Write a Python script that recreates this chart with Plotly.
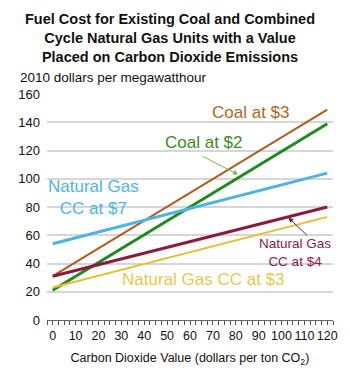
import plotly.graph_objects as go

co2_value = [0, 120]
coal_3 = [31, 149]
coal_2 = [21, 139]
ng_7 = [54, 104]
ng_4 = [31, 80]
ng_3 = [23, 73]
x_ticks = list(range(0, 121, 10))

series = [
    ("Coal at $3", coal_3, "#b35a1e", 2),
    ("Coal at $2", coal_2, "#1f8a1f", 3),
    ("Natural Gas CC at $7", ng_7, "#4cb3e3", 3),
    ("Natural Gas CC at $4", ng_4, "#8a1a3e", 3),
    ("Natural Gas CC at $3", ng_3, "#e3c12e", 2),
]

fig = go.Figure()
for name, ys, col, w in series:
    fig.add_trace(go.Scatter(x=co2_value, y=ys, mode="lines", name=name,
                             line=dict(color=col, width=w), showlegend=False))

F = "Liberation Sans, Arial, sans-serif"
ann = [
    dict(x=86.5, y=147, text="Coal at $3", font=dict(color="#b5651d", size=17), showarrow=False),
    dict(x=66, y=126, text="Coal at $2", font=dict(color="#3b8a1e", size=17), showarrow=False),
    dict(x=18, y=87, text="Natural Gas<br>CC at $7", font=dict(color="#4fb4e3", size=17), showarrow=False),
    dict(x=106, y=48, text="Natural Gas<br>CC at $4", font=dict(color="#8a1a4a", size=13.5), showarrow=False),
    dict(x=66, y=28.5, text="Natural Gas CC at $3", font=dict(color="#e8c84a", size=17), showarrow=False),
    dict(x=81, y=103, text="", showarrow=True, arrowhead=2, arrowsize=1, arrowwidth=1,
         arrowcolor="#7ab648", ax=-37, ay=-19),
    dict(x=103, y=72.5, text="", showarrow=True, arrowhead=2, arrowsize=1, arrowwidth=1,
         arrowcolor="#5a2233", ax=20, ay=19),
    dict(x=-29/291, y=1 + 16/226, xref="paper", yref="paper", xanchor="left", yanchor="middle",
         text="2010 dollars per megawatthour", font=dict(color="#111", size=13.5), showarrow=False),
    dict(x=(172-47)/291, y=1 + (94-38)/226, xref="paper", yref="paper", xanchor="center", yanchor="middle",
         text="<b>Fuel Cost for Existing Coal and Combined<br>Cycle Natural Gas Units with a Value<br>Placed on Carbon Dioxide Emissions</b>",
         font=dict(size=14.5, color="#111", family=F), showarrow=False),
]
fig.update_layout(annotations=ann)

fig.update_layout(
    width=350, height=388,
    margin=dict(l=47, r=12, t=94, b=68),
    paper_bgcolor="white", plot_bgcolor="white",
    font=dict(family=F, color="#111"),
    xaxis=dict(range=[-2.5, 122.5], tickmode="array", tickvals=x_ticks, tickangle=0,
               ticks="outside", ticklen=4, tickcolor="#555", showgrid=False, zeroline=False,
               showline=True, linecolor="#666", linewidth=1,
               minor=dict(dtick=2.5, tick0=0, ticks="outside", ticklen=4, tickcolor="#555", showgrid=False),
               tickfont=dict(size=12.5, color="#111"),
               title=dict(text="Carbon Dioxide Value (dollars per ton CO<sub>2</sub>)",
                          font=dict(size=12.5, color="#111"), standoff=11)),
    yaxis=dict(range=[0, 160], dtick=20, showgrid=True, gridcolor="#d6d6d6", gridwidth=1.5,
               zeroline=False, showline=False, ticks="", ticklabelstandoff=6,
               tickfont=dict(size=13, color="#111")),
)

fig.write_html("out.html")
